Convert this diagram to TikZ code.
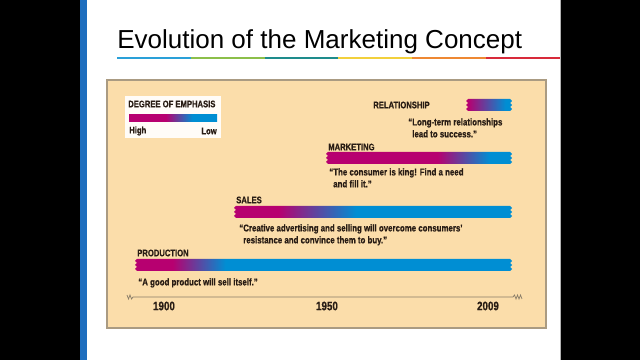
\documentclass[tikz,border=0pt]{standalone}
\usepackage{fontspec}
\setmainfont{Liberation Sans}
\newfontfamily\condfont[FakeStretch=0.8, BoldFeatures={FakeBold=0.6}]{Liberation Sans}
\usetikzlibrary{positioning}

\definecolor{emmag}{RGB}{183,0,112}
\definecolor{emblue}{RGB}{0,142,211}
\definecolor{panelbg}{RGB}{251,221,170}
\definecolor{panelrim}{RGB}{170,155,130}
\definecolor{evtext}{RGB}{40,28,20}
\definecolor{slideblue}{RGB}{30,110,190}

% bar shadings: the path box runs from 25bp to 75bp
\pgfdeclarehorizontalshading{legshade}{100bp}{color(0bp)=(emmag); color(46bp)=(emmag); color(61bp)=(emblue); color(100bp)=(emblue)}
\pgfdeclarehorizontalshading{relshade}{100bp}{color(0bp)=(emmag); color(27bp)=(emmag); color(68bp)=(emblue); color(100bp)=(emblue)}
\pgfdeclarehorizontalshading{mktshade}{100bp}{color(0bp)=(emmag); color(55bp)=(emmag); color(69bp)=(emblue); color(100bp)=(emblue)}
\pgfdeclarehorizontalshading{salshade}{100bp}{color(0bp)=(emmag); color(33bp)=(emmag); color(47bp)=(emblue); color(100bp)=(emblue)}
\pgfdeclarehorizontalshading{proshade}{100bp}{color(0bp)=(emmag); color(30bp)=(emmag); color(37bp)=(emblue); color(100bp)=(emblue)}

% ragged bar: shading, left x, right x, top y
\newcommand{\emphbar}[4]{%
  \shade[shading=#1] (#2,#4) -- (#3,#4) -- ++(2,2) -- ++(-2,2) -- ++(2,2) -- ++(-2,2) -- ++(2,2) -- ++(-2,2)
    -- (#2,#4+12) -- ++(-2,-2) -- ++(2,-2) -- ++(-2,-2) -- ++(2,-2) -- ++(-2,-2) -- cycle;}

\begin{document}
\begin{tikzpicture}[x=0.025cm, y=-0.025cm,
    lbl/.style={anchor=west, inner sep=0pt, text=evtext, font=\condfont\bfseries\fontsize{6.8}{8}\selectfont},
    quote/.style={lbl, anchor=north west, align=left, font=\condfont\bfseries\fontsize{7}{8.5}\selectfont},
    year/.style={inner sep=0pt, text=evtext, font=\condfont\bfseries\fontsize{8.7}{10}\selectfont}
]
    \useasboundingbox (0,0) rectangle (640,360);
    \fill[black] (0,0) rectangle (640,360);
    \fill[white] (87,0) rectangle (560,360);
    \fill[slideblue] (80,0) rectangle (87,360);
    \draw[gray!60] (560,0) -- (560,360);

    % title
    \node[anchor=west, inner sep=0pt, font=\fontsize{18.5}{20}\selectfont] (title) at (117,42) {Evolution of the Marketing Concept};
    \foreach \c [count=\i from 0] in {{rgb,255:red,42;green,160;blue,216},{rgb,255:red,140;green,191;blue,74},{rgb,255:red,30;green,140;blue,140},{rgb,255:red,242;green,208;blue,60},{rgb,255:red,238;green,136;blue,51},{rgb,255:red,216;green,42;blue,58}}
        \draw[line width=1.4pt, color=\c] (117+\i*73.8,58) -- (117+\i*73.8+73.8,58);

    % panel
    \draw[panelrim, fill=panelbg, line width=0.8pt] (107,80) rectangle (546,328);

    % legend
    \fill[white!92!panelbg] (125,96) rectangle (221,138);
    \node[lbl] (legtitle) at (128,104) {DEGREE OF EMPHASIS};
    \shade[shading=legshade] (129,115) rectangle (217,122);
    \node[lbl] (high) at (129,131) {High};
    \node[lbl, anchor=east] (low) at (217,131) {Low};

    % relationship
    \node[lbl] (rel) at (373,105) {RELATIONSHIP};
    \emphbar{relshade}{468}{510}{99}
    \node[quote] (relq) at (412,118) {\llap{“}Long-term relationships\\lead to success.”};

    % marketing
    \node[lbl] (mkt) at (328,147) {MARKETING};
    \emphbar{mktshade}{328}{510}{152}
    \node[quote] (mktq) at (333,168) {\llap{“}The consumer is king! Find a need\\and fill it.”};

    % sales
    \node[lbl] (sal) at (236,200) {SALES};
    \emphbar{salshade}{236}{510}{206}
    \node[quote] (salq) at (243,224) {\llap{“}Creative advertising and selling will overcome consumers’\\resistance and convince them to buy.”};

    % production
    \node[lbl] (pro) at (137,253) {PRODUCTION};
    \emphbar{proshade}{137}{510}{259}
    \node[quote] (proq) at (142,278) {\llap{“}A good product will sell itself.”};

    % time line
    \draw[panelrim!80!black, line width=0.5pt] (127,295) -- (128.5,299) -- (130,295) -- (131.5,299) -- (133,297)
        -- (513,297) -- (514.5,295) -- (516,299) -- (517.5,295) -- (519,299) -- (520.5,295) -- (522,299);
    \node[year] (y1900) at (164,306) {1900};
    \node[year] (y1950) at (327,306) {1950};
    \node[year] (y2009) at (488,306) {2009};
\end{tikzpicture}
\end{document}
